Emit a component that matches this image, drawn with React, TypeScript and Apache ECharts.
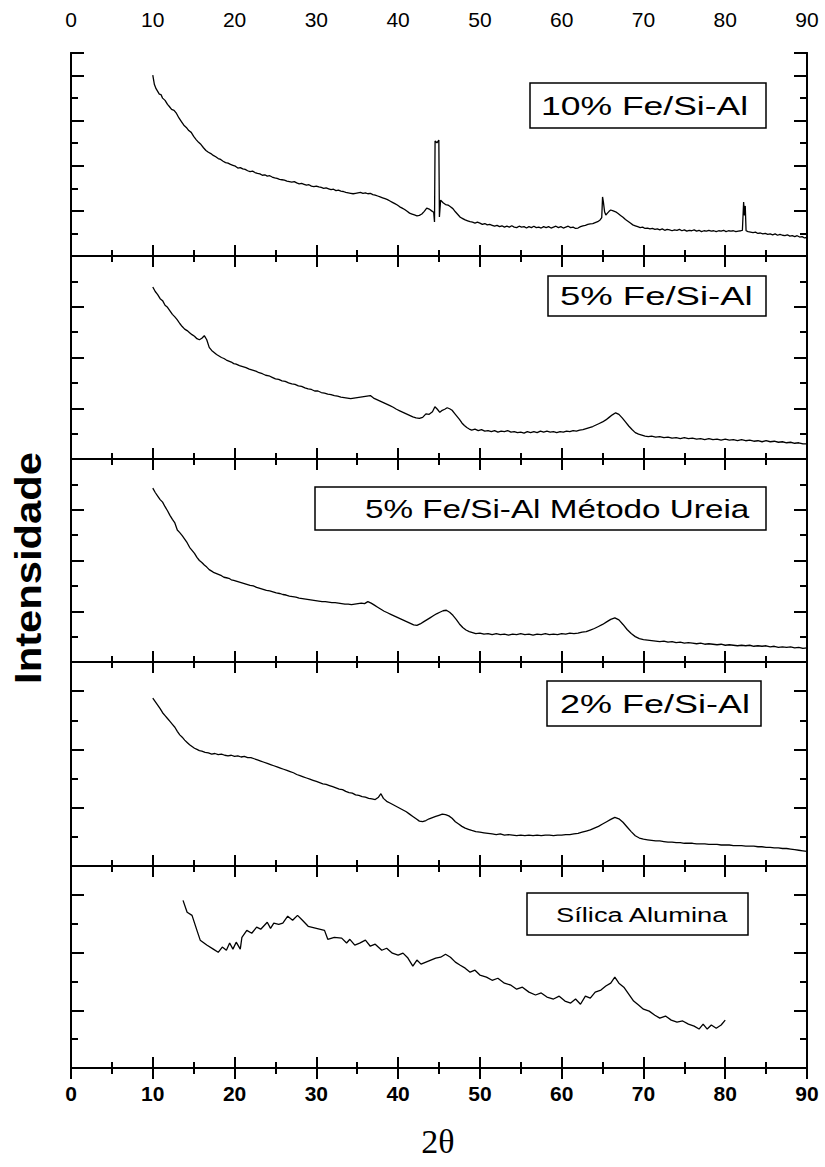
import React, { useEffect, useRef } from "react";
import * as echarts from "echarts";

const panelLabels = ["10% Fe/Si-Al", "5% Fe/Si-Al", "5% Fe/Si-Al Método Ureia", "2% Fe/Si-Al", "Sílica Alumina"];
const panelMax = [900, 800, 800, 700, 700];

const fe10 = [
  [10.0,802],[10.2,760],[10.4,742],[10.6,730],[10.8,718],[11.0,716],[11.2,700],[11.5,690],[11.8,672],[12.0,664],[12.3,650],[12.6,646],[12.9,632],[13.2,612],[13.5,596],[13.8,580],[14.1,570],[14.4,556],[14.7,548],[15.0,530],[15.3,516],[15.6,504],[15.9,494],[16.2,480],[16.5,468],[16.8,460],[17.1,454],[17.4,446],[17.7,440],[18.0,432],[18.3,428],[18.6,420],[18.9,414],[19.2,412],[19.5,406],[19.8,402],[20.1,398],[20.4,390],[20.7,392],[21.0,386],[21.3,384],[21.6,378],[21.9,374],[22.2,376],[22.5,370],[22.8,366],[23.1,364],[23.4,358],[23.7,360],[24.0,354],[24.3,356],[24.6,350],[24.9,346],[25.2,344],[25.5,340],[25.8,338],[26.1,336],[26.4,332],[26.7,330],[27.0,328],[27.3,330],[27.6,324],[27.9,320],[28.2,322],[28.5,318],[28.8,314],[29.1,316],[29.4,310],[29.7,308],[30.0,310],[30.3,306],[30.6,304],[30.9,300],[31.2,302],[31.5,298],[31.8,294],[32.1,296],[32.4,290],[32.7,292],[33.0,288],[33.3,286],[33.6,282],[33.9,280],[34.2,278],[34.5,276],[34.8,278],[35.1,280],[35.4,282],[35.7,278],[36.0,280],[36.3,276],[36.6,278],[36.9,272],[37.2,270],[37.5,266],[37.8,262],[38.1,258],[38.4,254],[38.7,250],[39.0,244],[39.3,238],[39.6,232],[39.9,226],[40.2,218],[40.5,212],[40.8,206],[41.1,198],[41.4,190],[41.7,186],[42.0,182],[42.3,178],[42.6,180],[42.9,186],[43.2,198],[43.5,212],[43.8,208],[44.1,200],[44.35,194],[44.45,151],[44.52,510],[44.75,502],[44.98,514],[45.05,173],[45.2,248],[45.5,236],[45.8,228],[46.1,226],[46.4,218],[46.7,210],[47.0,196],[47.3,184],[47.6,172],[47.9,166],[48.2,160],[48.5,156],[48.8,152],[49.1,150],[49.4,146],[49.7,150],[50.0,146],[50.3,140],[50.6,144],[50.9,138],[51.2,140],[51.5,136],[51.8,132],[52.1,136],[52.4,130],[52.7,134],[53.0,128],[53.3,132],[53.6,128],[53.9,134],[54.2,128],[54.5,126],[54.8,132],[55.1,128],[55.4,130],[55.7,124],[56.0,130],[56.3,126],[56.6,132],[56.9,126],[57.2,128],[57.5,124],[57.8,130],[58.1,126],[58.4,130],[58.7,124],[59.0,128],[59.3,132],[59.6,126],[59.9,130],[60.2,124],[60.5,128],[60.8,132],[61.1,126],[61.4,128],[61.7,122],[62.0,124],[62.3,130],[62.6,134],[62.9,136],[63.2,140],[63.5,142],[63.8,144],[64.1,148],[64.4,152],[64.7,160],[64.9,170],[65.0,262],[65.1,240],[65.25,196],[65.4,182],[65.6,190],[65.8,198],[66.0,204],[66.3,200],[66.6,196],[66.9,188],[67.2,180],[67.5,172],[67.8,162],[68.1,154],[68.4,146],[68.7,138],[69.0,134],[69.3,130],[69.6,126],[69.9,128],[70.2,122],[70.5,124],[70.8,120],[71.1,122],[71.4,118],[71.7,120],[72.0,116],[72.3,120],[72.6,114],[72.9,118],[73.2,116],[73.5,112],[73.8,116],[74.1,114],[74.4,118],[74.7,112],[75.0,116],[75.3,110],[75.6,114],[75.9,112],[76.2,116],[76.5,110],[76.8,114],[77.1,108],[77.4,112],[77.7,110],[78.0,114],[78.3,110],[78.6,112],[78.9,108],[79.2,112],[79.5,110],[79.8,114],[80.1,108],[80.4,112],[80.7,110],[81.0,112],[81.3,108],[81.6,110],[81.9,112],[82.1,114],[82.25,239],[82.35,180],[82.45,222],[82.55,112],[82.8,108],[83.1,106],[83.4,104],[83.7,106],[84.0,100],[84.3,102],[84.6,98],[84.9,100],[85.2,96],[85.5,98],[85.8,94],[86.1,98],[86.4,92],[86.7,96],[87.0,92],[87.3,90],[87.6,94],[87.9,88],[88.2,90],[88.5,86],[88.8,90],[89.1,84],[89.4,86],[89.7,80],[90.0,82]
];

const fe5 = [
  [10.0,678],[10.3,660],[10.6,648],[10.9,632],[11.2,624],[11.5,606],[11.8,598],[12.1,584],[12.4,570],[12.7,560],[13.0,548],[13.3,534],[13.6,522],[13.9,512],[14.2,506],[14.5,498],[14.8,490],[15.1,484],[15.4,474],[15.7,470],[16.0,476],[16.3,486],[16.6,470],[16.9,440],[17.2,428],[17.5,420],[17.8,412],[18.1,406],[18.4,400],[18.7,396],[19.0,390],[19.3,386],[19.6,382],[19.9,376],[20.2,374],[20.6,368],[21.0,364],[21.4,360],[21.8,354],[22.2,350],[22.6,346],[23.0,340],[23.4,336],[23.8,330],[24.2,328],[24.6,322],[25.0,316],[25.4,314],[25.8,308],[26.2,306],[26.6,300],[27.0,296],[27.4,294],[27.8,288],[28.2,286],[28.6,280],[29.0,276],[29.4,274],[29.8,268],[30.2,268],[30.6,262],[31.0,260],[31.4,256],[31.8,254],[32.2,250],[32.6,248],[33.0,244],[33.4,242],[33.8,240],[34.2,238],[34.6,240],[35.0,242],[35.4,244],[35.8,246],[36.2,248],[36.6,250],[37.0,240],[37.4,234],[37.8,228],[38.2,222],[38.6,216],[39.0,210],[39.4,204],[39.8,196],[40.2,190],[40.6,184],[41.0,178],[41.4,172],[41.8,166],[42.2,162],[42.6,160],[43.0,164],[43.4,178],[43.8,176],[44.2,186],[44.5,206],[44.8,196],[45.1,184],[45.4,192],[45.7,196],[46.0,202],[46.3,198],[46.6,192],[46.9,180],[47.2,168],[47.5,156],[47.8,142],[48.1,132],[48.4,124],[48.7,118],[49.0,114],[49.4,118],[49.8,112],[50.2,116],[50.6,110],[51.0,112],[51.4,108],[51.8,112],[52.2,106],[52.6,110],[53.0,108],[53.4,112],[53.8,106],[54.2,108],[54.6,104],[55.0,106],[55.4,102],[55.8,108],[56.2,104],[56.6,108],[57.0,104],[57.4,110],[57.8,106],[58.2,110],[58.6,106],[59.0,108],[59.4,104],[59.8,108],[60.2,106],[60.6,110],[61.0,108],[61.4,112],[61.8,110],[62.2,114],[62.6,116],[63.0,120],[63.4,124],[63.8,128],[64.2,134],[64.6,140],[65.0,146],[65.4,154],[65.8,164],[66.2,174],[66.6,182],[67.0,176],[67.4,162],[67.8,146],[68.2,130],[68.6,116],[69.0,104],[69.4,98],[69.8,94],[70.2,90],[70.6,88],[71.0,90],[71.5,86],[72.0,88],[72.5,84],[73.0,86],[73.5,82],[74.0,84],[74.5,80],[75.0,84],[75.5,80],[76.0,82],[76.5,78],[77.0,80],[77.5,76],[78.0,80],[78.5,76],[79.0,78],[79.5,74],[80.0,78],[80.5,74],[81.0,76],[81.5,72],[82.0,76],[82.5,72],[83.0,74],[83.5,70],[84.0,72],[84.5,68],[85.0,72],[85.5,68],[86.0,70],[86.5,66],[87.0,68],[87.5,64],[88.0,66],[88.5,62],[89.0,64],[89.5,60],[90.0,60]
];

const fe5Ureia = [
  [10.0,685],[10.3,668],[10.6,654],[10.9,640],[11.2,630],[11.5,612],[11.8,596],[12.1,578],[12.4,562],[12.7,548],[13.0,520],[13.3,510],[13.6,498],[13.9,484],[14.2,470],[14.5,452],[14.8,440],[15.1,428],[15.4,412],[15.7,400],[16.0,392],[16.3,382],[16.6,374],[16.9,364],[17.2,358],[17.5,352],[17.8,348],[18.1,344],[18.4,340],[18.7,334],[19.0,332],[19.3,330],[19.6,324],[19.9,322],[20.3,318],[20.7,314],[21.1,310],[21.5,306],[21.9,302],[22.3,300],[22.7,294],[23.1,290],[23.5,286],[23.9,282],[24.3,280],[24.7,276],[25.1,272],[25.5,270],[25.9,266],[26.3,264],[26.7,260],[27.1,258],[27.5,256],[27.9,252],[28.3,250],[28.7,248],[29.1,246],[29.5,244],[29.9,242],[30.3,240],[30.7,238],[31.1,238],[31.5,236],[31.9,234],[32.3,234],[32.7,232],[33.1,230],[33.5,228],[33.9,228],[34.3,226],[34.7,228],[35.1,230],[35.5,232],[35.9,230],[36.3,238],[36.7,232],[37.1,224],[37.5,216],[37.9,208],[38.3,200],[38.7,194],[39.1,188],[39.5,182],[39.9,176],[40.3,170],[40.7,164],[41.1,158],[41.5,152],[41.9,146],[42.3,144],[42.7,150],[43.1,158],[43.5,166],[43.9,174],[44.3,182],[44.7,190],[45.1,196],[45.5,202],[45.9,204],[46.3,196],[46.7,184],[47.1,168],[47.5,150],[47.9,136],[48.3,126],[48.7,120],[49.1,116],[49.5,112],[50.0,114],[50.5,110],[51.0,112],[51.5,108],[52.0,112],[52.5,108],[53.0,110],[53.5,106],[54.0,110],[54.5,108],[55.0,112],[55.5,108],[56.0,110],[56.5,106],[57.0,110],[57.5,108],[58.0,112],[58.5,108],[59.0,110],[59.5,108],[60.0,112],[60.5,110],[61.0,114],[61.5,112],[62.0,114],[62.5,118],[63.0,120],[63.5,126],[64.0,132],[64.5,140],[65.0,148],[65.5,158],[66.0,168],[66.5,174],[67.0,166],[67.5,148],[68.0,128],[68.5,112],[69.0,100],[69.5,92],[70.0,88],[70.5,86],[71.0,84],[71.5,82],[72.0,80],[72.5,82],[73.0,78],[73.5,80],[74.0,76],[74.5,78],[75.0,74],[75.5,76],[76.0,74],[76.5,72],[77.0,74],[77.5,70],[78.0,72],[78.5,70],[79.0,68],[79.5,70],[80.0,66],[80.5,68],[81.0,66],[81.5,64],[82.0,66],[82.5,64],[83.0,66],[83.5,62],[84.0,64],[84.5,62],[85.0,64],[85.5,60],[86.0,62],[86.5,58],[87.0,60],[87.5,58],[88.0,60],[88.5,56],[89.0,58],[89.5,54],[90.0,56]
];

const fe2 = [
  [10.0,576],[10.3,564],[10.6,552],[10.9,540],[11.2,526],[11.5,516],[11.8,506],[12.1,496],[12.4,486],[12.7,476],[13.0,462],[13.3,450],[13.6,442],[13.9,432],[14.2,424],[14.5,416],[14.8,410],[15.1,404],[15.4,400],[15.7,396],[16.0,394],[16.4,390],[16.8,388],[17.2,384],[17.6,386],[18.0,382],[18.4,384],[18.8,380],[19.2,378],[19.6,380],[20.0,376],[20.4,378],[20.8,374],[21.2,376],[21.6,372],[22.0,372],[22.4,368],[22.8,364],[23.2,360],[23.6,356],[24.0,352],[24.4,348],[24.8,344],[25.2,340],[25.6,336],[26.0,332],[26.4,328],[26.8,324],[27.2,320],[27.6,314],[28.0,310],[28.4,306],[28.8,302],[29.2,298],[29.6,294],[30.0,290],[30.4,286],[30.8,282],[31.2,280],[31.6,276],[32.0,272],[32.4,268],[32.8,264],[33.2,262],[33.6,256],[34.0,252],[34.4,250],[34.8,244],[35.2,242],[35.6,238],[36.0,236],[36.4,232],[36.8,230],[37.2,228],[37.6,236],[37.9,248],[38.2,232],[38.6,222],[39.0,216],[39.4,210],[39.8,204],[40.2,198],[40.6,192],[41.0,186],[41.4,178],[41.8,170],[42.2,162],[42.6,154],[43.0,152],[43.4,156],[43.8,162],[44.2,166],[44.6,170],[45.0,174],[45.4,178],[45.8,176],[46.2,172],[46.6,164],[47.0,152],[47.4,144],[47.8,136],[48.2,130],[48.6,126],[49.0,122],[49.5,118],[50.0,116],[50.5,114],[51.0,112],[51.5,110],[52.0,108],[52.5,110],[53.0,106],[53.5,108],[54.0,106],[54.5,104],[55.0,106],[55.5,104],[56.0,106],[56.5,104],[57.0,106],[57.5,104],[58.0,106],[58.5,106],[59.0,104],[59.5,106],[60.0,106],[60.5,108],[61.0,108],[61.5,110],[62.0,112],[62.5,116],[63.0,120],[63.5,124],[64.0,130],[64.5,136],[65.0,144],[65.5,152],[66.0,160],[66.5,167],[67.0,162],[67.5,150],[68.0,134],[68.5,118],[69.0,104],[69.5,96],[70.0,92],[70.5,90],[71.0,88],[71.5,86],[72.0,86],[72.5,84],[73.0,82],[73.5,82],[74.0,80],[74.5,80],[75.0,78],[75.5,78],[76.0,78],[76.5,76],[77.0,76],[77.5,76],[78.0,74],[78.5,74],[79.0,74],[79.5,72],[80.0,72],[80.5,72],[81.0,70],[81.5,70],[82.0,70],[82.5,68],[83.0,68],[83.5,68],[84.0,66],[84.5,66],[85.0,64],[85.5,64],[86.0,62],[86.5,62],[87.0,60],[87.5,60],[88.0,58],[88.5,56],[89.0,54],[89.5,52],[90.0,50]
];

const silicaAlumina = [
  [13.7,581],[14.2,540],[14.8,529],[15.4,477],[15.8,443],[16.6,426],[17.4,412],[18.0,401],[18.5,419],[19.0,408],[19.4,433],[19.8,412],[20.2,436],[20.7,412],[20.9,453],[21.5,477],[22.1,467],[22.7,488],[23.2,481],[24.0,505],[24.4,484],[24.8,502],[25.4,498],[25.9,502],[26.5,526],[27.1,512],[27.7,529],[28.3,512],[29.0,491],[30.0,484],[31.0,477],[31.4,446],[32.2,453],[33.1,450],[33.7,433],[34.1,446],[34.7,426],[35.3,433],[36.0,443],[36.6,422],[37.2,429],[38.0,408],[38.6,415],[39.3,398],[40.0,391],[40.6,398],[41.2,381],[41.8,353],[42.3,374],[42.8,360],[43.4,367],[44.0,374],[44.6,381],[45.2,384],[45.8,394],[46.4,384],[47.0,367],[47.6,356],[48.2,346],[48.8,332],[49.4,339],[50.0,322],[50.8,315],[51.5,304],[52.2,311],[53.0,294],[53.8,287],[54.5,273],[55.2,280],[56.0,263],[56.8,253],[57.5,260],[58.2,246],[59.0,239],[59.7,249],[60.4,232],[61.1,225],[61.7,239],[62.3,221],[62.9,249],[63.5,242],[64.1,263],[64.8,270],[65.4,284],[66.0,294],[66.5,315],[67.0,294],[67.6,280],[68.2,256],[68.8,232],[69.4,218],[70.0,204],[70.7,197],[71.4,183],[72.0,173],[72.7,180],[73.4,166],[74.1,159],[74.8,163],[75.5,152],[76.2,145],[76.8,135],[77.3,152],[77.8,135],[78.3,149],[78.9,138],[79.5,149],[80.0,166]
];

const seriesData = [fe10, fe5, fe5Ureia, fe2, silicaAlumina];

const FONT = "'Liberation Sans', Arial, Helvetica, sans-serif";
const LEFT = 71;
const WIDTH = 736;
const TOPS = [53, 256, 459, 662, 866];
const HEIGHTS = [203, 203, 203, 204, 202];
const BOXES = [
  { x: 530, y: 83, w: 236, h: 45, tx: 541, size: 25, sx: 1.42 },
  { x: 548, y: 276, w: 218, h: 40, tx: 560, size: 25, sx: 1.46 },
  { x: 315, y: 487, w: 451, h: 43, tx: 365, size: 25, sx: 1.33 },
  { x: 547, y: 681, w: 214, h: 45, tx: 560, size: 25, sx: 1.44 },
  { x: 527, y: 893, w: 221, h: 42, tx: 556, size: 21, sx: 1.3 },
];

function buildOption() {
  const grid: any[] = [];
  const xAxis: any[] = [];
  const yAxis: any[] = [];
  const series: any[] = [];
  const lineStyle = { color: "#000", width: 2 };

  for (let i = 0; i < 5; i++) {
    grid.push({ left: LEFT, width: WIDTH, top: TOPS[i], height: HEIGHTS[i], containLabel: false });
    for (const pos of ["bottom", "top"]) {
      const showLabel = (pos === "bottom" && i === 4) || (pos === "top" && i === 0);
      xAxis.push({
        type: "value",
        gridIndex: i,
        position: pos,
        min: 0,
        max: 90,
        interval: 10,
        axisLine: { show: true, lineStyle },
        axisTick: { show: true, inside: true, length: 11, lineStyle: { color: "#000", width: 2 } },
        minorTick: { show: true, splitNumber: 2, length: 6, lineStyle: { color: "#000", width: 2 } },
        splitLine: { show: false },
        minorSplitLine: { show: false },
        axisLabel: showLabel
          ? {
              show: true,
              color: "#000",
              fontFamily: FONT,
              fontSize: pos === "bottom" ? 21 : 21,
              fontWeight: pos === "bottom" ? "bold" : "normal",
              margin: pos === "bottom" ? 15 : 23,
            }
          : { show: false },
      });
    }
    for (const pos of ["left", "right"]) {
      for (const major of [true, false]) {
        yAxis.push({
          type: "value",
          gridIndex: i,
          position: pos,
          min: 0,
          max: panelMax[i],
          interval: major ? 200 : 100,
          axisLine: { show: true, lineStyle },
          axisTick: { show: true, inside: true, length: major ? 13 : 7, lineStyle: { color: "#000", width: 2 } },
          splitLine: { show: false },
          axisLabel: { show: false },
        });
      }
    }
    series.push({
      type: "line",
      xAxisIndex: i * 2,
      yAxisIndex: i * 4,
      data: seriesData[i],
      showSymbol: false,
      symbol: "none",
      lineStyle: { color: "#000", width: 1.3 },
      silent: true,
      z: 1,
    });
  }

  const graphic: any[] = [];
  BOXES.forEach((b, i) => {
    graphic.push({
      type: "rect",
      shape: { x: b.x, y: b.y, width: b.w, height: b.h },
      style: { fill: "#fff", stroke: "#000", lineWidth: 1.5 },
      z: 10,
    });
    graphic.push({
      type: "text",
      x: b.tx,
      y: b.y + b.h / 2 + 1,
      scaleX: b.sx,
      style: {
        text: panelLabels[i],
        font: `${b.size}px ${FONT}`,
        fill: "#000",
        verticalAlign: "middle",
      },
      z: 11,
    });
  });
  graphic.push({
    type: "text",
    x: 29,
    y: 568,
    rotation: Math.PI / 2,
    scaleX: 1.16,
    style: {
      text: "Intensidade",
      font: `bold 36px ${FONT}`,
      fill: "#000",
      align: "center",
      verticalAlign: "middle",
    },
  });
  graphic.push({
    type: "text",
    x: 438,
    y: 1141,
    style: {
      text: "2θ",
      font: "34px 'Liberation Serif', 'Times New Roman', serif",
      fill: "#000",
      align: "center",
      verticalAlign: "middle",
    },
  });

  return { animation: false, backgroundColor: "#fff", grid, xAxis, yAxis, series, graphic };
}

export default function App() {
  const ref = useRef<HTMLDivElement>(null);
  useEffect(() => {
    if (!ref.current) return;
    const chart = echarts.init(ref.current, null, { renderer: "svg" });
    chart.setOption(buildOption() as any);
    return () => chart.dispose();
  }, []);
  return <div ref={ref} style={{ width: 825, height: 1167, position: "absolute", left: 0, top: 0 }} />;
}
